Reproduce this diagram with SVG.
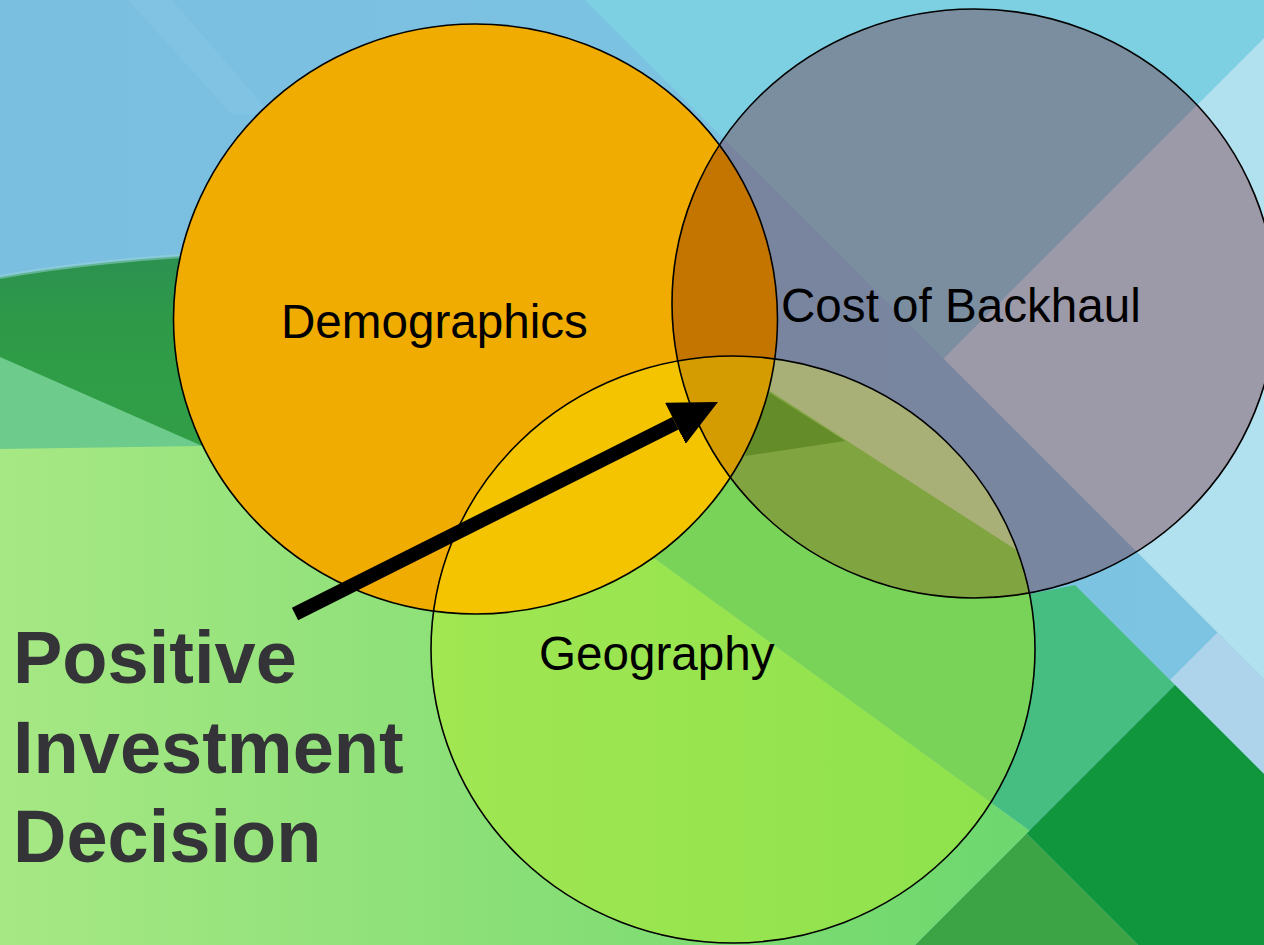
<svg xmlns="http://www.w3.org/2000/svg" xmlns:xlink="http://www.w3.org/1999/xlink" width="1264" height="945" viewBox="0 0 1264 945">
  <defs>
    <style>
      .outline { fill: none; stroke: #000; stroke-width: 1.6; }
      .label { font-family: "Liberation Sans", Arial, sans-serif; font-size: 47.6px; fill: #000; }
      .big { font-family: "Liberation Sans", Arial, sans-serif; font-size: 74px; font-weight: bold; fill: #333338; }
      .arrow { stroke: #000; stroke-width: 14; fill: none; stroke-linecap: butt; }
    </style>
    <linearGradient id="skyGrad" x1="0" y1="0" x2="1" y2="0">
      <stop offset="0" stop-color="#7bbfe0"/>
      <stop offset="1" stop-color="#7cc4e2"/>
    </linearGradient>
    <linearGradient id="fieldGrad" gradientUnits="userSpaceOnUse" x1="0" y1="0" x2="1000" y2="0">
      <stop offset="0" stop-color="#a6e884"/>
      <stop offset="0.45" stop-color="#8de078"/>
      <stop offset="1" stop-color="#6ed86e"/>
    </linearGradient>
    <linearGradient id="hillGrad" x1="0" y1="0" x2="0" y2="1">
      <stop offset="0" stop-color="#2b9052"/>
      <stop offset="0.3" stop-color="#2e9a48"/>
      <stop offset="1" stop-color="#32a046"/>
    </linearGradient>
    <clipPath id="cD"><ellipse cx="475.5" cy="319" rx="302" ry="295"/></clipPath>
    <clipPath id="cB"><ellipse cx="974" cy="303.5" rx="302" ry="294.5"/></clipPath>
    <clipPath id="cG"><ellipse cx="733" cy="649.5" rx="302" ry="293.5"/></clipPath>
    <marker id="head" markerUnits="userSpaceOnUse" viewBox="0 0 48 46" refX="0" refY="23" markerWidth="48" markerHeight="46" orient="auto">
      <path d="M0,0 L47.6,23 L0,46 Z" fill="#000"/>
    </marker>
  </defs>

  <g id="background">
    <rect x="0" y="0" width="1264" height="945" fill="url(#skyGrad)"/>
    <polygon points="128,0 172,0 272,115 232,115" fill="#8ccbe7" opacity="0.3"/>
    <polygon points="585,0 1264,0 1264,38 943.5,358.5" fill="#7dcfe2"/>
    <polygon points="943.5,358.5 1264,38 1264,679" fill="#b1e0ef"/>
    <polygon points="1170,680 1217.5,632.5 1264,679 1264,774" fill="#aed4ec"/>
    <rect x="0" y="330" width="480" height="125" fill="#6dcb8c"/>
    <path d="M0,277 Q100,259 250,252 L400,250 L520,400 L300,480 L200,445 L0,357 Z" fill="url(#hillGrad)"/>
    <path d="M0,275 Q100,257 250,250 L250,254 Q100,261 0,279 Z" fill="#9ad8dc" opacity="0.5"/>
    <polygon points="600,519 1029.5,830.5 1175,685 1075,585 1030,594 760,430 650,480" fill="#46be82"/>
    <polygon points="1175,685 1264,774 1264,945 1138,945 1026.5,833.5" fill="#10963c"/>
    <polygon points="1026.5,833.5 1138,945 915,945" fill="#3ca444"/>
    <polygon points="0,449 200,446 450,445 600,519 1029.5,830.5 915,945 0,945" fill="url(#fieldGrad)"/>
  </g>

  <g id="venn-fills">
    <ellipse cx="475.5" cy="319" rx="302" ry="295" fill="#f0ac00"/>
    <ellipse cx="974" cy="303.5" rx="302" ry="294.5" fill="rgb(117,20,37)" fill-opacity="0.35"/>
    <ellipse cx="733" cy="649.5" rx="302" ry="293.5" fill="rgb(185,238,34)" fill-opacity="0.44"/>
    <g id="overlap-backhaul-geography" clip-path="url(#cB)">
      <g clip-path="url(#cG)">
        <rect x="700" y="340" width="360" height="270" fill="#80a440"/>
        <polygon points="700,346 1100,604 1100,300 700,300" fill="#a8b078"/>
        <polygon points="765,390 845,441 745,456" fill="#648c28"/>
      </g>
    </g>
    <ellipse cx="475.5" cy="319" rx="302" ry="295" fill="#f4c400" clip-path="url(#cG)"/>
    <ellipse cx="475.5" cy="319" rx="302" ry="295" fill="#c47500" clip-path="url(#cB)"/>
    <g clip-path="url(#cB)">
      <ellipse cx="475.5" cy="319" rx="302" ry="295" fill="#d49c00" clip-path="url(#cG)"/>
    </g>
  </g>

  <g id="node-demographics">
    <ellipse class="outline" cx="475.5" cy="319" rx="302" ry="295"/>
    <text class="label" x="281" y="338">Demographics</text>
  </g>
  <g id="node-backhaul">
    <ellipse class="outline" cx="974" cy="303.5" rx="302" ry="294.5"/>
    <text class="label" x="781" y="322">Cost of Backhaul</text>
  </g>
  <g id="node-geography">
    <ellipse class="outline" cx="733" cy="649.5" rx="302" ry="293.5"/>
    <text class="label" x="539" y="670">Geography</text>
  </g>

  <g id="connectors">
    <line class="arrow" x1="295" y1="614" x2="675.4" y2="423.3" marker-end="url(#head)"/>
  </g>

  <g id="node-decision">
    <text class="big" x="13" y="683">Positive</text>
    <text class="big" x="13" y="773">Investment</text>
    <text class="big" x="13" y="862">Decision</text>
  </g>
</svg>
